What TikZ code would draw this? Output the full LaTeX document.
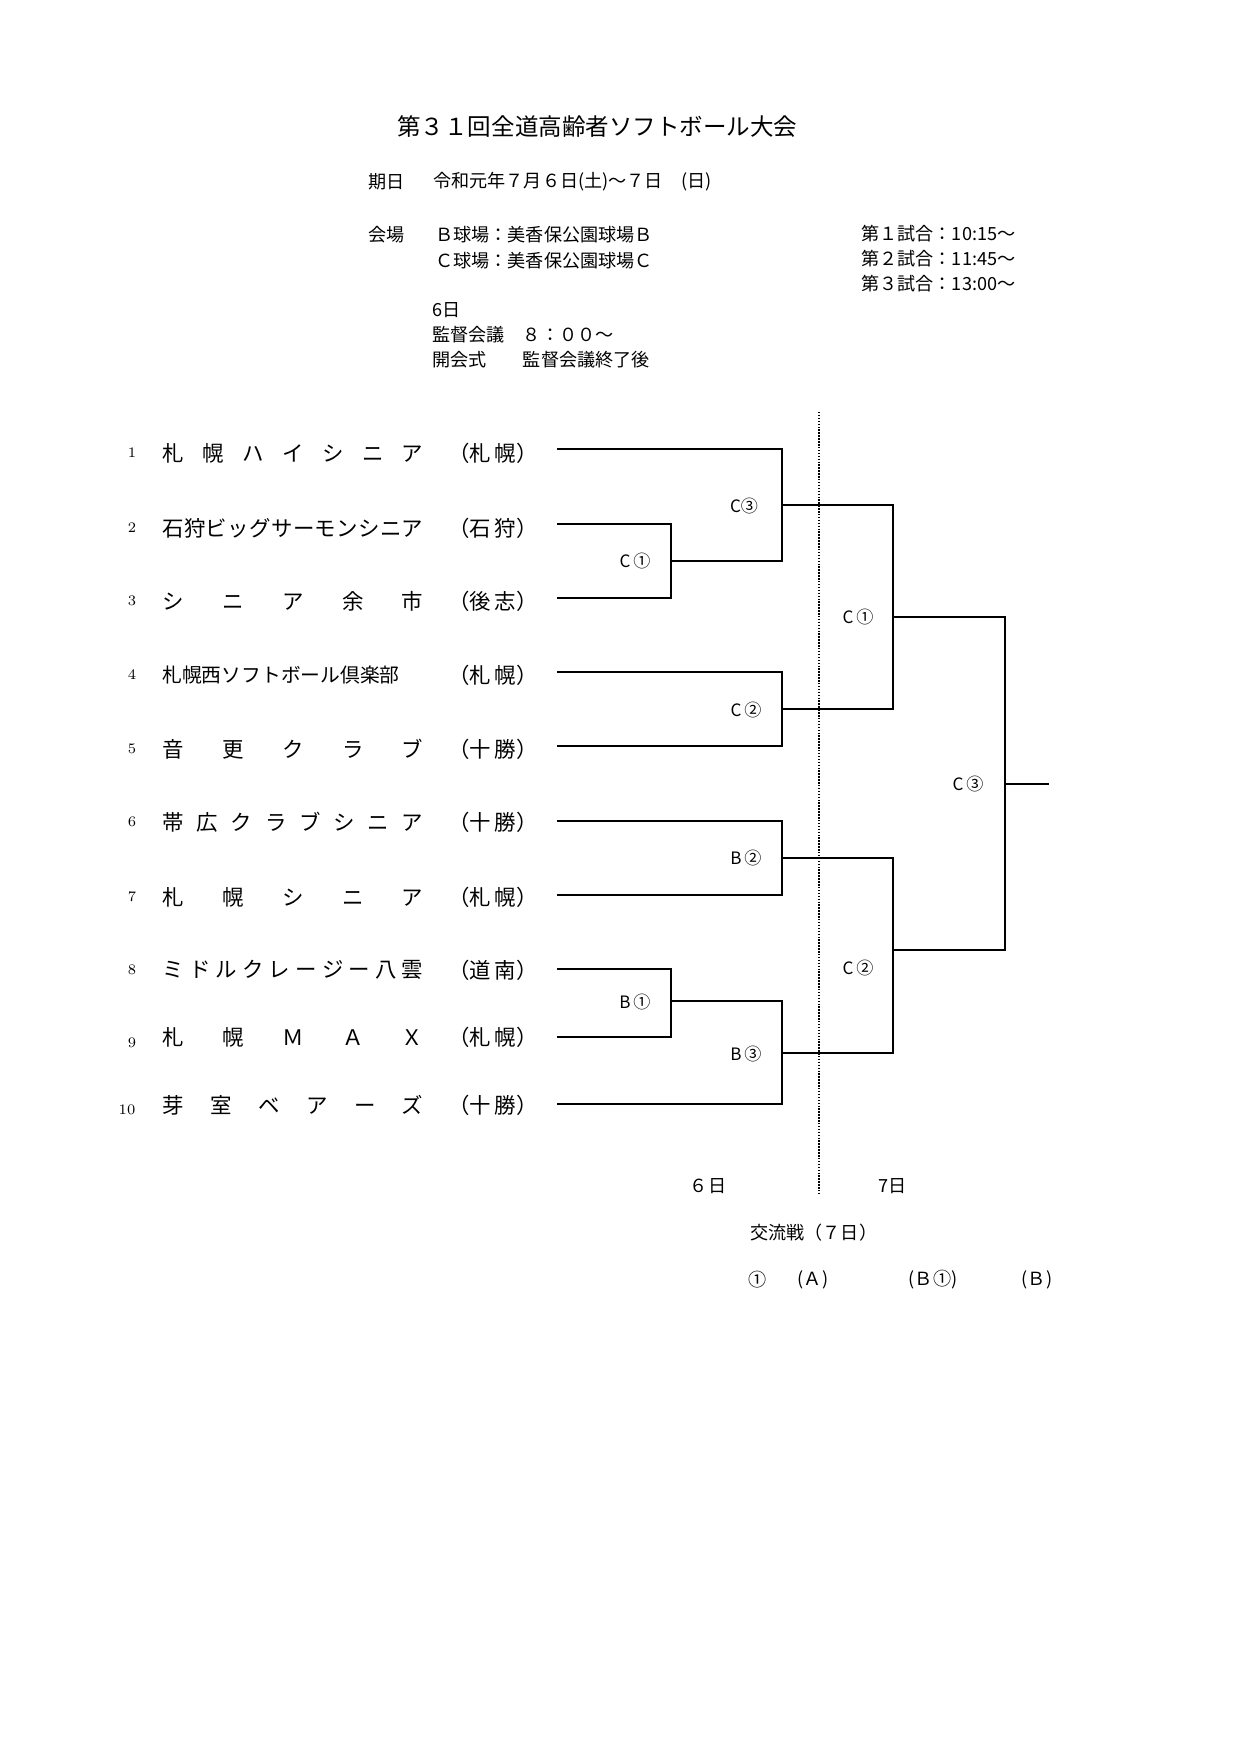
\documentclass[tikz,border=0pt]{standalone}
\usepackage{fontspec}
\newfontfamily\jp{Noto Sans CJK JP}
\newlength\pxu
\setlength\pxu{0.48045pt}
\newcommand\spreadbox[2]{\makebox[#1\pxu][l]{#2}}
\begin{document}
\begin{tikzpicture}[x=0.48045pt,y=-0.48045pt,
  line/.style={line width=0.95pt,line cap=rect},
  dots/.style={line width=0.6pt,dash pattern=on 0.7pt off 0.7pt},
  title/.style={font=\jp\fontsize{11.3}{13}\selectfont,inner sep=0pt,anchor=west},
  head/.style={font=\jp\fontsize{8.7}{10}\selectfont,inner sep=0pt,anchor=west},
  headc/.style={font=\jp\fontsize{8.7}{10}\selectfont,inner sep=0pt},
  team/.style={font=\jp\fontsize{10.3}{12}\selectfont,inner sep=0pt,anchor=west},
  teamsmall/.style={font=\jp\fontsize{9.5}{12}\selectfont,inner sep=0pt,anchor=west},
  pref/.style={font=\jp\fontsize{10.3}{12}\selectfont,inner sep=0pt},
  num/.style={font=\rmfamily\fontsize{7}{8}\selectfont,inner sep=0pt},
  lab/.style={font=\jp\fontsize{8.2}{10}\selectfont,inner sep=0pt}]
\useasboundingbox (0,0) rectangle (1239,1754);
\fill[white] (0,0) rectangle (1239,1754);

% header
\node[title] (ttl) at (397,127) {第３１回全道高齢者ソフトボール大会};
\node[head] (kijitsu) at (368,182) {期日};
\node[head] (date) at (433,182) {令和元年７月６日(土)～７日　(日)};
\node[head] (kaijo) at (368,235) {会場};
\node[head] (bfield) at (435,235) {Ｂ球場：美香保公園球場Ｂ};
\node[head] (cfield) at (435,261) {Ｃ球場：美香保公園球場Ｃ};
\node[head] (day6) at (432,310) {6日};
\node[head] (kantoku) at (432,335) {監督会議　８：００～};
\node[head] (kaikai) at (432,360) {開会式　　監督会議終了後};
\node[head] (g1) at (861,234) {第１試合：10:15～};
\node[head] (g2) at (861,259) {第２試合：11:45～};
\node[head] (g3) at (861,284) {第３試合：13:00～};

% team numbers
\node[num] (n1) at (132,453) {1};
\node[num] (n2) at (132,528) {2};
\node[num] (n3) at (132,601) {3};
\node[num] (n4) at (132,675) {4};
\node[num] (n5) at (132,749) {5};
\node[num] (n6) at (132,822) {6};
\node[num] (n7) at (132,897) {7};
\node[num] (n8) at (132,970) {8};
\node[num] (n9) at (132,1043) {9};
\node[num] (n10) at (127,1110) {10};

% team names
\node[team] (name1) at (162,453) {\spreadbox{261}{札\hfill 幌\hfill ハ\hfill イ\hfill シ\hfill ニ\hfill ア}};
\node[team] (name2) at (162,528) {\spreadbox{261}{石\hfill 狩\hfill ビ\hfill ッ\hfill グ\hfill サ\hfill ー\hfill モ\hfill ン\hfill シ\hfill ニ\hfill ア}};
\node[team] (name3) at (162,601) {\spreadbox{261}{シ\hfill ニ\hfill ア\hfill 余\hfill 市}};
\node[teamsmall] (name4) at (162,675) {札幌西ソフトボール倶楽部};
\node[team] (name5) at (162,749) {\spreadbox{261}{音\hfill 更\hfill ク\hfill ラ\hfill ブ}};
\node[team] (name6) at (162,822) {\spreadbox{261}{帯\hfill 広\hfill ク\hfill ラ\hfill ブ\hfill シ\hfill ニ\hfill ア}};
\node[team] (name7) at (162,897) {\spreadbox{261}{札\hfill 幌\hfill シ\hfill ニ\hfill ア}};
\node[team] (name8) at (162,970) {\spreadbox{261}{ミ\hfill ド\hfill ル\hfill ク\hfill レ\hfill ー\hfill ジ\hfill ー\hfill 八\hfill 雲}};
\node[team] (name9) at (162,1037) {\spreadbox{261}{札\hfill 幌\hfill Ｍ\hfill Ａ\hfill Ｘ}};
\node[team] (name10) at (162,1105) {\spreadbox{261}{芽\hfill 室\hfill ベ\hfill ア\hfill ー\hfill ズ}};

% regions
\node[pref] (p1) at (493,453) {（札\,幌）};
\node[pref] (p2) at (493,528) {（石\,狩）};
\node[pref] (p3) at (493,601) {（後\,志）};
\node[pref] (p4) at (493,675) {（札\,幌）};
\node[pref] (p5) at (493,749) {（十\,勝）};
\node[pref] (p6) at (493,822) {（十\,勝）};
\node[pref] (p7) at (493,897) {（札\,幌）};
\node[pref] (p8) at (493,970) {（道\,南）};
\node[pref] (p9) at (493,1037) {（札\,幌）};
\node[pref] (p10) at (493,1105) {（十\,勝）};

% team line starts
\coordinate (s1) at (558,449);
\coordinate (s2) at (558,524);
\coordinate (s3) at (558,598);
\coordinate (s4) at (558,672);
\coordinate (s5) at (558,746);
\coordinate (s6) at (558,821);
\coordinate (s7) at (558,895);
\coordinate (s8) at (558,969);
\coordinate (s9) at (558,1037);
\coordinate (s10) at (558,1104);

% match junctions
\coordinate (c1a) at (671,561);
\coordinate (b1) at (671,1001);
\coordinate (c3a) at (782,505);
\coordinate (c2a) at (782,709);
\coordinate (b2) at (782,858);
\coordinate (b3) at (782,1053);
\coordinate (c1b) at (893,617);
\coordinate (c2b) at (893,950);
\coordinate (c3b) at (1005,784);
\coordinate (win) at (1048,784);

% bracket
\draw[line] (s2) -| (c1a) |- (s3);
\draw[line] (s8) -| (b1) |- (s9);
\draw[line] (s1) -| (c3a) |- (c1a);
\draw[line] (s4) -| (c2a) |- (s5);
\draw[line] (s6) -| (b2) |- (s7);
\draw[line] (b1) -| (b3) |- (s10);
\draw[line] (c3a) -| (c1b) |- (c2a);
\draw[line] (b2) -| (c2b) |- (b3);
\draw[line] (c1b) -| (c3b) |- (c2b);
\draw[line] (c3b) -- (win);

% match labels
\node[lab] (lc1a) at (635,561) {C\,①};
\node[lab] (lb1) at (635,1002) {B\,①};
\node[lab] (lc3a) at (744,506) {C③};
\node[lab] (lc2a) at (746,710) {C\,②};
\node[lab] (lb2) at (746,858) {B\,②};
\node[lab] (lb3) at (746,1054) {B\,③};
\node[lab] (lc1b) at (858,617) {C\,①};
\node[lab] (lc2b) at (858,968) {C\,②};
\node[lab] (lc3b) at (968,784) {C\,③};

% day divider
\coordinate (dtop) at (819,412);
\coordinate (dbot) at (819,1195);
\draw[dots] (dtop) -- (dbot);
\node[headc] (d6) at (708,1186) {６日};
\node[headc] (d7) at (893,1186) {7日};

% exchange games
\node[head] (koryu) at (750,1233) {交流戦（７日）};
\node[headc] (k1) at (758,1280) {①};
\node[headc] (kA) at (813,1280) {(Ａ)};
\node[headc] (kB1) at (933,1280) {(Ｂ①)};
\node[headc] (kB) at (1037,1280) {(Ｂ)};
\end{tikzpicture}
\end{document}
